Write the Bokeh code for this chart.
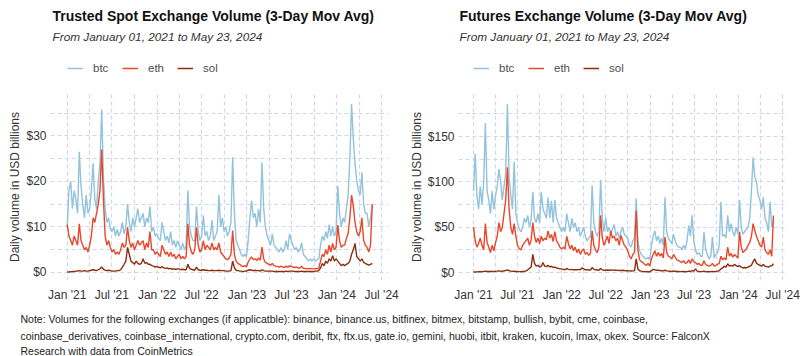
import pandas as pd
from bokeh.plotting import figure
from bokeh.models import (Range1d, FixedTicker, NumeralTickFormatter, DatetimeTickFormatter,
                          Legend, LegendItem, Label)
from bokeh.layouts import column, row
from bokeh.embed import file_html
from bokeh.resources import INLINE

# ---------------- data (weekly samples, USD billions) ----------------
dates = pd.date_range("2021-01-01", periods=178, freq="7D")

spot_btc = [
    10, 18, 20, 14, 18,  16, 13, 26.5, 19,  15, 12, 17, 13,  14, 18, 24, 16, 14,  20, 24, 35.8, 21,
    14, 11, 12, 9.5,  9, 10, 8, 9.5, 8,  9, 11, 8.5, 10,  15, 11, 9, 12,  10, 12, 14, 11, 12,
    13, 10, 12, 11,  14.5, 9, 10, 8, 8.5,
    7.5, 7, 11, 9,  7, 8, 6.5, 9,  6, 7, 5.5, 7,  6, 5, 6.5, 5, 6,  18, 10, 8, 7,  7, 14.5, 9, 7,
    8, 12.5, 8, 9, 7,  8, 11.5, 7, 8,  9, 17, 10, 12, 9,  10, 8, 9, 11,  25.3, 13, 7, 6,
    5, 4, 3.5, 4, 3.5,
    7, 12, 15.8, 12,  13, 10, 14, 11,  24.2, 14, 10, 8, 7,  6, 8.5, 6, 5.5,  5, 4.5, 5.5, 4.5,
    5, 7, 5, 8.5, 7,  6, 5, 5.5, 4.5,  5, 6.5, 4, 3.5,  3, 2.5, 3, 2.5, 3,  2.5, 2.8, 3, 6,
    8, 7, 9, 7.5,  10.5, 8, 10, 8, 9,
    19, 13, 10, 12,  11, 14, 17, 25,  37, 29.5, 24, 20, 18,  17, 22, 15, 13,  13, 10, 12, 15,
]
spot_eth = [
    10.5, 8, 7, 6, 8,  7, 6, 10.7, 7,  6, 5, 5.5, 4.5,  6, 8, 12, 11, 13,  15, 18, 27, 16,
    8, 6, 7, 5.5,  4.5, 5, 4, 4.5, 4,  5, 6.5, 5.5, 6,  9.9, 7, 5.5, 6.5,  5, 6, 7, 6, 6.5,
    7, 5, 6.5, 5.5,  9, 5, 5, 4, 4.5,
    4, 3.5, 6, 5,  4, 4.5, 3.5, 4.5,  3.5, 4, 3, 3.5,  4, 3, 3.5, 3, 3.5,  10.7, 6, 4.5, 4,
    5, 9.9, 6, 4.5,  5, 7, 5, 6, 5.5,  5, 6.5, 5, 5.5,  5, 6.5, 4.5, 4, 3.5,  3, 2.8, 3.2, 4,
    9.2, 4, 2.5, 2,  1.8, 1.5, 1.3, 1.5, 1.2,
    2.3, 3, 3.4, 2.8,  3, 2.6, 3.2, 2.7,  5.6, 3, 2.2, 2, 1.8,  1.6, 2, 1.5, 1.4,  1.3, 1.2, 1.4, 1.2,
    1.1, 1.4, 1.1, 1.5, 1.3,  1.2, 1.1, 1.2, 1,  1, 1.4, 0.9, 0.9,  0.8, 0.9, 0.8, 0.9, 0.8,
    0.9, 0.8, 1, 2.5,  4, 3.5, 5, 4,  6, 4.5, 6.4, 5, 5.5,
    10.4, 7, 5.5, 6,  6, 7.5, 8.5, 12,  17, 14.7, 11, 9, 8,  9, 12, 7, 6,  5.5, 4.5, 6, 15,
]
spot_sol = [
    0.1, 0.1, 0.15, 0.2, 0.2,  0.3, 0.3, 0.4, 0.3,  0.3, 0.4, 0.3, 0.3,  0.4, 0.5, 0.6, 0.5, 0.4,
    0.6, 0.8, 1.2, 0.7,  0.5, 0.4, 0.5, 0.4,  0.3, 0.3, 0.3, 0.4, 0.4,  0.6, 1.2, 1.8, 2.5,
    5.5, 4, 2.5, 2.2,  1.8, 2.5, 2, 1.8, 2,  3, 2, 2.2, 1.8,  1.8, 1.5, 1.4, 1.2, 1.3,
    1.2, 1, 1.3, 1,  0.9, 1, 0.8, 0.9,  0.7, 0.8, 0.7, 0.8,  0.8, 0.6, 0.7, 0.6, 0.6,
    1.8, 0.9, 0.7, 0.6,  0.5, 1.2, 0.6, 0.5,  0.5, 0.6, 0.5, 0.5, 0.4,  0.4, 0.5, 0.4, 0.4,
    0.4, 0.5, 0.4, 0.4, 0.4,  0.3, 0.3, 0.3, 0.4,  2.5, 1, 0.5, 0.4,  0.3, 0.3, 0.2, 0.3, 0.3,
    0.5, 0.6, 0.5, 0.4,  0.5, 0.4, 0.4, 0.3,  0.6, 0.4, 0.3, 0.3, 0.3,  0.3, 0.3, 0.2, 0.2,
    0.2, 0.2, 0.2, 0.2,  0.2, 0.3, 0.2, 0.3, 0.3,  0.3, 0.2, 0.2, 0.2,  0.2, 0.3, 0.2, 0.2,
    0.2, 0.2, 0.2, 0.2, 0.2,  0.3, 0.3, 0.4, 1,  2, 1.5, 2.5, 2,  3, 2.5, 3.7, 2.5, 3,
    2.5, 2, 1.5, 1.8,  1.5, 1.8, 2, 2.5,  4, 5, 6.4, 3.5, 3,  2.5, 3, 2.2, 2,  1.8, 1.6, 1.8, 2,
]
fut_btc = [
    90, 131, 85, 70, 95,  75, 100, 165, 90,  80, 65, 90, 70,  85, 95, 114, 100, 80,  95, 110, 186, 105,
    85, 70, 122, 65,  55, 48, 45, 50, 60,  55, 63, 50, 58,  89, 60, 55, 65,  55, 89, 70, 65, 60,
    83, 60, 79, 55,  80, 60, 55, 50, 45,
    50, 45, 65, 55,  45, 60, 50, 55,  45, 50, 40, 45,  50, 40, 35, 38, 40,  96, 55, 45, 40,
    45, 102, 60, 45,  61, 45, 50, 42, 48,  53, 40, 45, 38,  45, 50, 42, 40, 38,  30, 28, 35, 38,
    82, 35, 24, 20,  18, 16, 15, 17, 14,
    30, 40, 46, 35,  40, 32, 38, 30,  83, 45, 38, 35, 32,  42, 35, 30, 28,  28, 25, 30, 26,
    35, 52, 40, 63, 35,  25, 20, 22, 18,  18, 45, 25, 20,  15, 18, 39, 16, 20,  22, 30, 78, 40,
    42, 38, 63, 45,  54, 45, 40, 50, 42,
    80, 50, 42, 45,  48, 50, 60, 90,  127, 105, 100, 85, 80,  70, 83, 60, 55,  45, 78, 50, 57,
]
fut_eth = [
    50, 35, 28, 32, 38,  30, 25, 54, 33,  28, 22, 30, 24,  33, 40, 55, 45, 50,  65, 80, 116, 70,
    50, 42, 54, 40,  30, 26, 25, 30, 33,  35, 38, 30, 36,  55, 40, 33, 38,  32, 40, 35, 38, 36,
    46, 38, 42, 34,  45, 35, 32, 28, 26,
    28, 26, 40, 32,  26, 30, 24, 28,  22, 26, 20, 24,  26, 20, 22, 19, 21,  46, 30, 25, 22,
    28, 63, 38, 30,  35, 40, 32, 46, 38,  40, 35, 38, 30,  41, 35, 30, 28, 24,  18, 15, 20, 22,
    68, 25, 14, 12,  11, 9, 8, 10, 7,
    15, 20, 24, 18,  22, 18, 21, 16,  39, 22, 18, 17, 15,  20, 17, 14, 13,  12, 11, 13, 10,
    11, 14, 10, 15, 12,  11, 9, 10, 8,  8, 13, 9, 8,  7, 8, 10, 7, 8,  9, 10, 18, 14,
    16, 14, 28, 18,  21, 17, 20, 18, 16,
    45, 28, 22, 24,  26, 30, 33, 40,  54, 46, 40, 35, 30,  28, 39, 25, 22,  20, 25, 18, 63,
]
fut_sol = [
    0.5, 0.6, 0.7, 0.8, 0.8,  1, 1.2, 1.5, 1.2,  1.1, 1.3, 1.2, 1.1,  1.3, 1.5, 1.8, 1.5, 1.4,
    1.8, 2.2, 3, 2,  1.5, 1.3, 1.4, 1.2,  1, 1, 0.9, 1.1, 1.2,  1.8, 3, 4.5, 6,
    20, 10, 7, 8,  6, 7, 11, 7, 6.5,  8, 6, 7, 5.5,  6, 5, 4.5, 4, 4,
    3.5, 3, 4.5, 3.5,  3.2, 3.5, 3, 3.2,  3, 3.5, 3, 5,  4, 3, 3.2, 2.8, 2.8,  5.5, 3.5, 3, 2.8,
    2.5, 4.5, 3, 2.5,  2.5, 2.8, 2.5, 2.8, 2.6,  2.5, 2.7, 2.4, 2.3,  2.3, 2.5, 2.2, 2, 2,
    1.8, 1.7, 1.8, 2,  15, 4, 2, 1.5,  1.2, 1, 0.9, 1, 0.8,
    2, 3.5, 3, 2.5,  2.5, 2.2, 2, 1.8,  2.5, 1.8, 1.5, 1.4, 1.3,  1.5, 1.4, 1.2, 1.1,  1, 1, 1.1, 0.9,
    1, 1.5, 1.2, 2, 1.5,  4, 1.5, 1.2, 1,  1, 1.5, 1, 0.9,  0.9, 1, 1.2, 1, 1.1,  1.5, 2, 4, 5,
    7, 6, 9.7, 7,  8, 7, 9, 7.5, 6.5,
    7.5, 6, 5, 5.5,  5, 6, 7, 8,  12, 15, 10, 9, 8,  7, 9, 7, 6.5,  6, 7, 7.5, 9.7,
]

series_names = ["btc", "eth", "sol"]
series_colors = ["#92c2dc", "#e9472a", "#8c2d0e"]

x_major = ["2021-01-01", "2021-07-01", "2022-01-01", "2022-07-01", "2023-01-01",
           "2023-07-01", "2024-01-01", "2024-07-01"]
x_minor = ["2021-04-01", "2021-10-01", "2022-04-01", "2022-10-01", "2023-04-01",
           "2023-10-01", "2024-04-01"]

spot_y_major = [0, 10, 20, 30]
spot_y_minor = [5, 15, 25, 35]
fut_y_major = [0, 50, 100, 150]
fut_y_minor = [25, 75, 125, 175]

subtitle = "From January 01, 2021 to May 23, 2024"
note_lines = [
    "Note: Volumes for the following exchanges (if applicatble): binance, binance.us, bitfinex, bitmex, bitstamp, bullish, bybit, cme, coinbase,",
    "coinbase_derivatives, coinbase_international, crypto.com, deribit, ftx, ftx.us, gate.io, gemini, huobi, itbit, kraken, kucoin, lmax, okex. Source: FalconX",
    "Research with data from CoinMetrics",
]

for s in (spot_btc, spot_eth, spot_sol, fut_btc, fut_eth, fut_sol):
    assert len(s) == len(dates), len(s)

FONT = "Liberation Sans"
GRID = "#cdd8ea"
HEADER_H = 93
CHART_H = 212
NOTE_H = 51


def ms(d):
    return pd.Timestamp(d).value // 10**6


def bare(p):
    p.outline_line_color = None
    p.xgrid.visible = False
    p.ygrid.visible = False


def make_panel(title, ys, y_major, y_minor, x_start, x_end, y_start, y_end,
               width, bl, br, title_dx, legend_dx):
    # ---- chart ----
    p = figure(width=width, height=CHART_H, x_axis_type="datetime",
               x_range=Range1d(pd.Timestamp(x_start), pd.Timestamp(x_end)),
               y_range=Range1d(y_start, y_end),
               toolbar_location=None, output_backend="svg", title_location=None,
               min_border_left=bl, min_border_right=br,
               min_border_bottom=25, min_border_top=0)
    p.outline_line_color = None

    for vals, col in zip(ys, series_colors):
        p.line(dates, vals, line_color=col, line_width=1.4)

    p.xaxis.ticker = FixedTicker(ticks=[ms(d) for d in x_major], minor_ticks=[ms(d) for d in x_minor])
    fmt = "%b '%y"
    p.xaxis.formatter = DatetimeTickFormatter(years=fmt, months=fmt, days=fmt, hours=fmt,
                                              minutes=fmt, seconds=fmt, milliseconds=fmt)
    p.yaxis.ticker = FixedTicker(ticks=y_major, minor_ticks=y_minor)
    p.yaxis.formatter = NumeralTickFormatter(format="$0")
    for ax in (p.xaxis[0], p.yaxis[0]):
        ax.axis_line_color = None
        ax.major_tick_line_color = None
        ax.minor_tick_line_color = None
        ax.major_tick_out = 0
        ax.major_tick_in = 0
        ax.minor_tick_out = 0
        ax.minor_tick_in = 0
        ax.major_label_text_font = FONT
        ax.major_label_text_font_size = "12px"
        ax.major_label_text_color = "#333333"
    p.xaxis.major_label_standoff = 7
    p.yaxis.major_label_standoff = 4
    p.yaxis.axis_label = "Daily volume in USD billions"
    p.yaxis.axis_label_text_font = FONT
    p.yaxis.axis_label_text_font_size = "12px"
    p.yaxis.axis_label_text_font_style = "normal"
    p.yaxis.axis_label_text_color = "#333333"
    p.yaxis.axis_label_standoff = 1

    for g in (p.xgrid[0], p.ygrid[0]):
        g.grid_line_color = GRID
        g.grid_line_dash = "4 3"
        g.grid_line_width = 1.2
        g.minor_grid_line_color = GRID
        g.minor_grid_line_dash = "4 3"
        g.minor_grid_line_width = 1.2

    # ---- header: title, subtitle, legend (frame aligned with the chart's frame) ----
    fw = width - bl - br
    h = figure(width=width, height=HEADER_H, x_range=Range1d(0, fw), y_range=Range1d(HEADER_H, 0),
               x_axis_type=None, y_axis_type=None, toolbar_location=None,
               output_backend="svg", min_border_left=bl, min_border_right=br,
               min_border_top=0, min_border_bottom=0, title_location=None)
    bare(h)
    h.add_layout(Label(x=title_dx, y=15, text=title, text_font=FONT, text_font_size="14px",
                       text_font_style="bold", text_color="#111111",
                       text_baseline="middle", text_align="left"))
    h.add_layout(Label(x=title_dx, y=36, text=subtitle, text_font=FONT, text_font_size="11.8px",
                       text_font_style="italic", text_color="#333333",
                       text_baseline="middle", text_align="left"))
    items = []
    for vals, name, col in zip(ys, series_names, series_colors):
        # same series drawn in the header only to feed the legend swatch (falls outside its range)
        r = h.line([ms(d) for d in dates], vals, line_color=col, line_width=1.5)
        items.append(LegendItem(label=name, renderers=[r]))
    legend = Legend(items=items, orientation="horizontal", location=(legend_dx, 18),
                    glyph_width=16, glyph_height=14, label_height=14,
                    label_standoff=10, spacing=9, padding=0, margin=0,
                    border_line_color=None, background_fill_alpha=0,
                    label_text_font=FONT, label_text_font_size="11.5px",
                    label_text_color="#4d4d4d")
    h.add_layout(legend, "center")
    return column(h, p, spacing=0)


left = make_panel("Trusted Spot Exchange Volume (3-Day Mov Avg)",
                  [spot_btc, spot_eth, spot_sol], spot_y_major, spot_y_minor,
                  "2020-10-25", "2024-07-29", -1.76, 39.3, 402, 50, 14, 2, 17)
right = make_panel("Futures Exchange Volume (3-Day Mov Avg)",
                   [fut_btc, fut_eth, fut_sol], fut_y_major, fut_y_minor,
                   "2020-10-31", "2024-07-21", -8.8, 197.5, 398, 56, 13, 1, 15)

p3 = figure(width=800, height=NOTE_H, x_range=Range1d(0, 800), y_range=Range1d(NOTE_H, 0),
            x_axis_type=None, y_axis_type=None, toolbar_location=None,
            output_backend="svg", min_border=0, title_location=None)
bare(p3)
for line, yy in zip(note_lines, [13, 30, 45]):
    p3.add_layout(Label(x=20, y=yy, text=line, text_font=FONT,
                        text_font_size="10.5px", text_color="#222222",
                        text_baseline="middle", text_align="left"))

layout = column(row(left, right, spacing=0), p3, spacing=0)
open("out.html", "w").write(file_html(layout, INLINE))
